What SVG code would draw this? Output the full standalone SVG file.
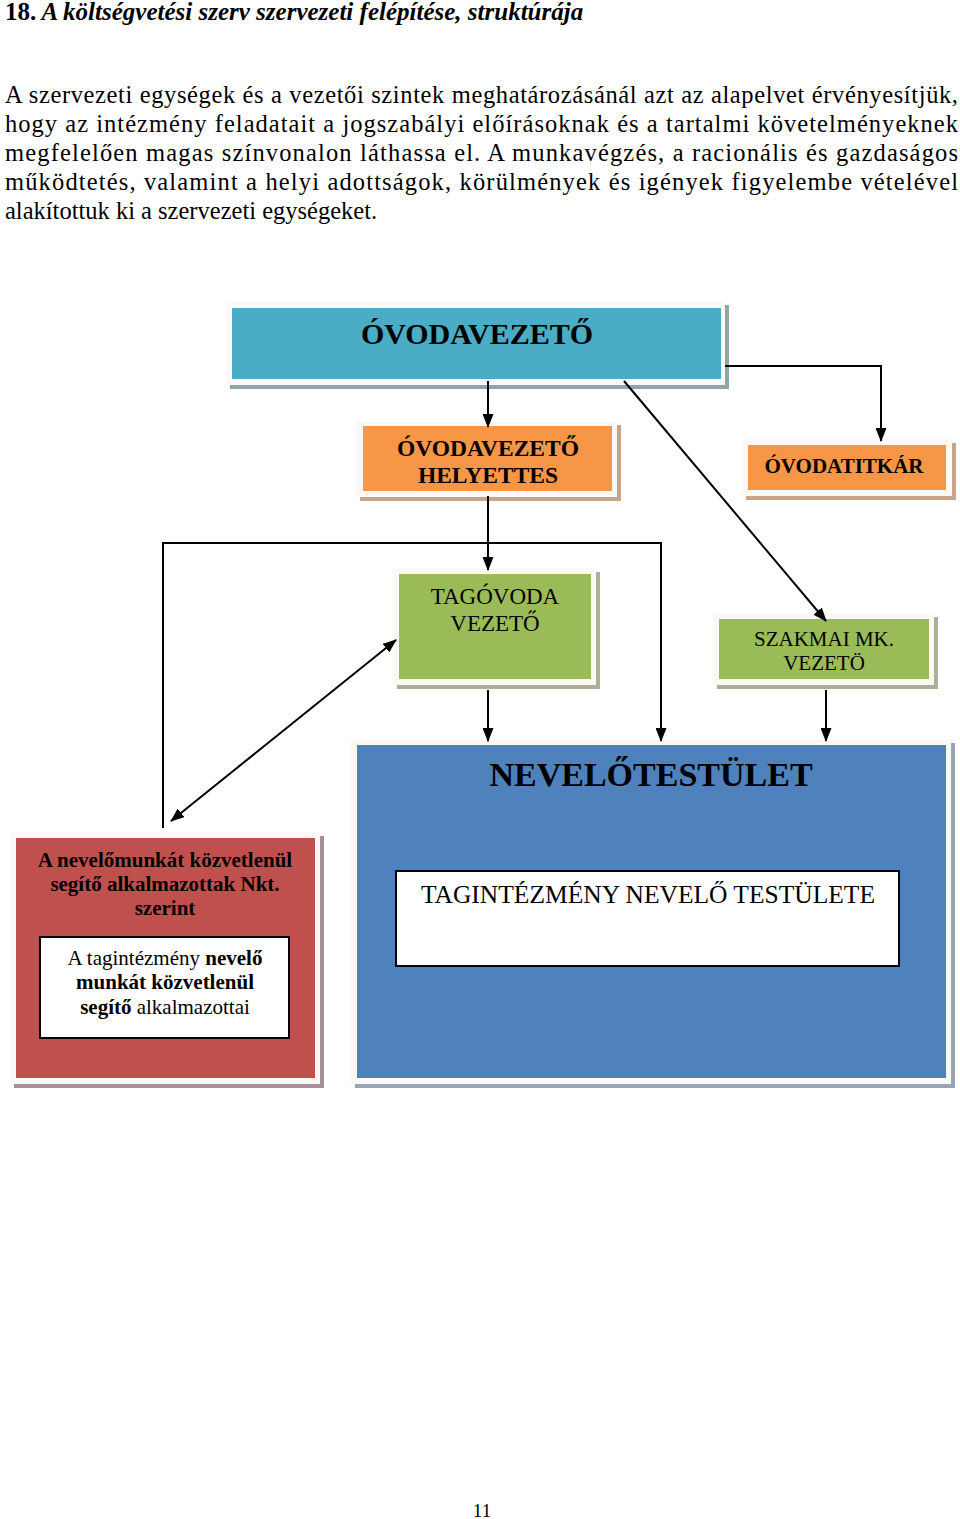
<svg xmlns="http://www.w3.org/2000/svg" width="960" height="1519" viewBox="0 0 960 1519">
<defs>
<style>
.t{font-family:"Liberation Serif","Times New Roman",serif;fill:#000}
.b{font-weight:bold}
.c{text-anchor:middle}
.hl{fill:#fbf8f5}
.ln{stroke:#000;stroke-width:2;fill:none}
.ar{marker-end:url(#ah)}
</style>
<marker id="ah" markerUnits="userSpaceOnUse" markerWidth="14" markerHeight="11" refX="13" refY="5.5" orient="auto">
<path d="M0,0 L14,5.5 L0,11 z" fill="#000"/>
</marker>
<marker id="as" markerUnits="userSpaceOnUse" markerWidth="14" markerHeight="11" refX="1" refY="5.5" orient="auto">
<path d="M14,0 L0,5.5 L14,11 z" fill="#000"/>
</marker>
</defs>
<rect width="960" height="1519" fill="#fff"/>

<g id="title">
<text class="t" x="5" y="20" font-size="25"><tspan class="b">18.</tspan><tspan font-weight="bold" font-style="italic"> A költségvetési szerv szervezeti felépítése, struktúrája</tspan></text>
</g>

<g id="paragraph" class="t" font-size="24.5">
<text x="5" y="103" textLength="953" lengthAdjust="spacing">A szervezeti egységek és a vezetői szintek meghatározásánál azt az alapelvet érvényesítjük,</text>
<text x="5" y="132" textLength="953" lengthAdjust="spacing">hogy az intézmény feladatait a jogszabályi előírásoknak és a tartalmi követelményeknek</text>
<text x="5" y="161" textLength="953" lengthAdjust="spacing">megfelelően magas színvonalon láthassa el. A munkavégzés, a racionális és gazdaságos</text>
<text x="5" y="190" textLength="953" lengthAdjust="spacing">működtetés, valamint a helyi adottságok, körülmények és igények figyelembe vételével</text>
<text x="5" y="219">alakítottuk ki a szervezeti egységeket.</text>
</g>

<g id="ovodavezeto">
<rect x="230" y="305" width="499" height="84" fill="#8fa5ac"/>
<rect class="hl" x="226" y="301" width="499" height="84"/>
<rect x="232" y="308" width="489" height="71" fill="#4BACC6"/>
<text class="t b c" x="477" y="344" font-size="30">ÓVODAVEZETŐ</text>
</g>

<g id="helyettes">
<rect x="360" y="425" width="261" height="76" fill="#c9a585"/>
<rect class="hl" x="356" y="421" width="261" height="76"/>
<rect x="363" y="426" width="249" height="65" fill="#F79646"/>
<text class="t b c" x="488" y="456" font-size="23.5">ÓVODAVEZETŐ</text>
<text class="t b c" x="488" y="483" font-size="23.5">HELYETTES</text>
</g>

<g id="titkar">
<rect x="746" y="443" width="210" height="57" fill="#c9a585"/>
<rect class="hl" x="742" y="439" width="210" height="57"/>
<rect x="748" y="445" width="198" height="45" fill="#F79646"/>
<text class="t b c" x="844" y="473" font-size="21">ÓVODATITKÁR</text>
</g>

<g id="tagovoda">
<rect x="397" y="572" width="203" height="117" fill="#a9b196"/>
<rect class="hl" x="393" y="568" width="203" height="117"/>
<rect x="399" y="574" width="192" height="105" fill="#9BBB59"/>
<text class="t c" x="495" y="604" font-size="23">TAGÓVODA</text>
<text class="t c" x="495" y="631" font-size="23">VEZETŐ</text>
</g>

<g id="szakmai">
<rect x="717" y="617" width="221" height="72" fill="#a9b196"/>
<rect class="hl" x="713" y="613" width="221" height="72"/>
<rect x="719" y="619" width="210" height="60" fill="#9BBB59"/>
<text class="t c" x="824" y="646" font-size="21">SZAKMAI MK.</text>
<text class="t c" x="824" y="670" font-size="21">VEZETÖ</text>
</g>

<g id="nevelotestulet">
<rect x="355" y="743" width="600" height="345" fill="#9aa4b4"/>
<rect class="hl" x="351" y="739" width="600" height="345"/>
<rect x="357" y="745" width="589" height="333" fill="#4F81BD"/>
<text class="t b c" x="651" y="786" font-size="34">NEVELŐTESTÜLET</text>
<rect x="396" y="871" width="503" height="95" fill="#fff" stroke="#000" stroke-width="2"/>
<text class="t c" x="648" y="903" font-size="25.5">TAGINTÉZMÉNY NEVELŐ TESTÜLETE</text>
</g>

<g id="segito">
<rect x="14" y="836" width="310" height="252" fill="#a89098"/>
<rect class="hl" x="10" y="832" width="310" height="252"/>
<rect x="16" y="838" width="299" height="240" fill="#C0504D"/>
<text class="t b c" x="165" y="867" font-size="21">A nevelőmunkát közvetlenül</text>
<text class="t b c" x="165" y="891" font-size="21">segítő alkalmazottak Nkt.</text>
<text class="t b c" x="165" y="915" font-size="21">szerint</text>
<rect x="40" y="937" width="249" height="101" fill="#fff" stroke="#000" stroke-width="2"/>
<text class="t c" x="165" y="965" font-size="21">A tagintézmény <tspan class="b">nevelő</tspan></text>
<text class="t b c" x="165" y="989" font-size="21">munkát közvetlenül</text>
<text class="t c" x="165" y="1014" font-size="21"><tspan class="b">segítő</tspan> alkalmazottai</text>
</g>

<g id="connectors">
<line class="ln ar" x1="488" y1="381" x2="488" y2="427"/>
<polyline class="ln ar" points="725,366 881,366 881,441"/>
<line class="ln ar" x1="624" y1="381" x2="826" y2="621"/>
<line class="ln ar" x1="488" y1="496" x2="488" y2="570"/>
<polyline class="ln ar" points="163,828 163,543 661,543 661,741"/>
<line class="ln ar" x1="488" y1="690" x2="488" y2="741"/>
<line class="ln ar" x1="826" y1="690" x2="826" y2="741"/>
<line class="ln" x1="171" y1="821" x2="396" y2="640" marker-start="url(#as)" marker-end="url(#ah)"/>
</g>

<g id="page">
<text class="t c" x="482" y="1517" font-size="19">11</text>
</g>
</svg>
